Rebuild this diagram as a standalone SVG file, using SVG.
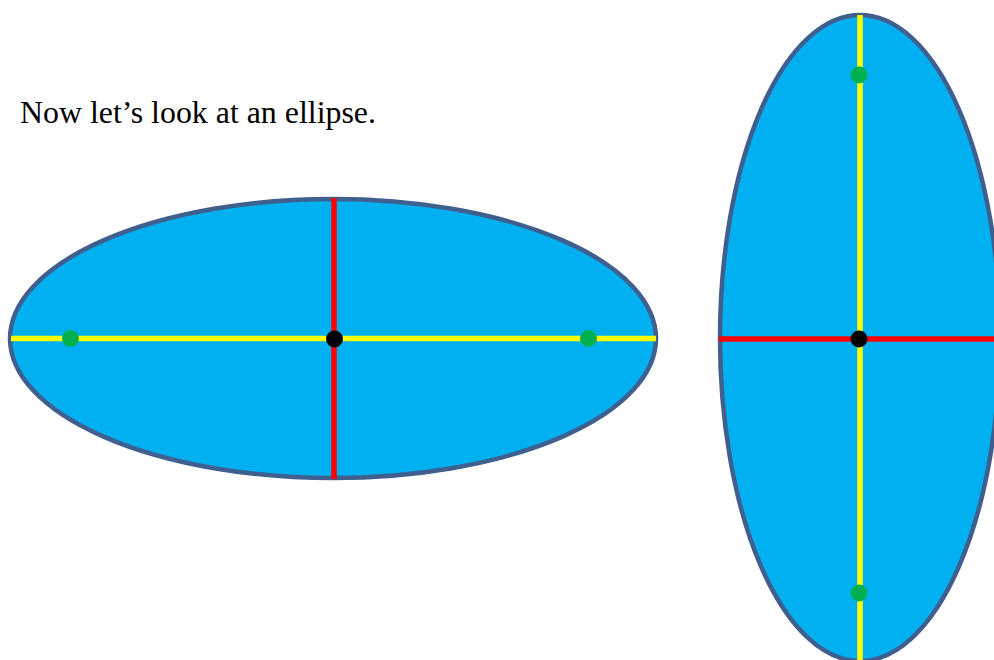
<svg xmlns="http://www.w3.org/2000/svg" width="994" height="660" viewBox="0 0 994 660">
<style>
.ell{fill:#00B0F0;stroke:#3F5F8E;stroke-width:4.5}
.maj{stroke:#FFFF00;stroke-width:5.5}
.min{stroke:#FF0000;stroke-width:5.5}
.focus{fill:#00B050}
.ctr{fill:#000000}
.t{font-family:"Liberation Serif","Times New Roman",serif;font-size:31px;fill:#000}
</style>
<rect width="994" height="660" fill="#fff"/>
<text class="t" x="20" y="123" textLength="356" lengthAdjust="spacingAndGlyphs">Now let’s look at an ellipse.</text>
<g id="horizontal-ellipse">
<ellipse class="ell" cx="333" cy="338.5" rx="323" ry="139.5"/>
<line class="maj" x1="11" y1="338.5" x2="656" y2="338.5"/>
<line class="min" x1="334" y1="198" x2="334" y2="479"/>
<circle class="focus" cx="70.5" cy="338.5" r="8.5"/>
<circle class="focus" cx="588.5" cy="338.5" r="8.5"/>
<circle class="ctr" cx="334.5" cy="339" r="8.5"/>
</g>
<g id="vertical-ellipse">
<ellipse class="ell" cx="860" cy="338" rx="140" ry="323"/>
<line class="maj" x1="860" y1="15" x2="860" y2="662"/>
<line class="min" x1="719" y1="339" x2="1000" y2="339"/>
<circle class="focus" cx="859" cy="75" r="8.5"/>
<circle class="focus" cx="859" cy="593" r="8.5"/>
<circle class="ctr" cx="859" cy="339" r="8.5"/>
</g>
</svg>
